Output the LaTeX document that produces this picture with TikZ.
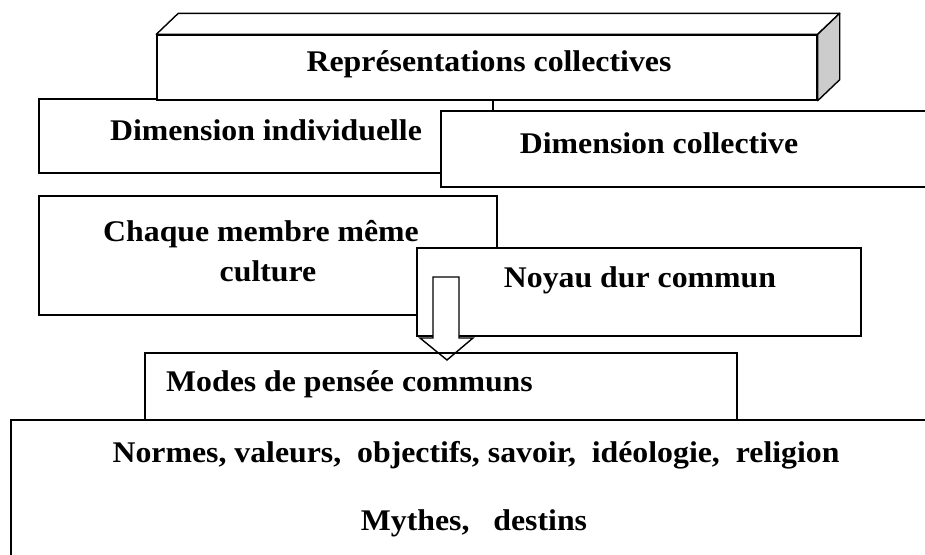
\documentclass[tikz,border=0pt]{standalone}
\usepackage{fontspec}
\setmainfont{Liberation Serif}[FakeStretch=1.06]
\begin{document}
\begin{tikzpicture}[x=1pt,y=-1pt,
  box/.style={draw=black, line width=1.4pt, fill=white, rectangle, inner sep=0pt, minimum width=#1},
  lbl/.style={inner sep=0pt, font=\fontsize{30}{36}\selectfont\bfseries},
  shade/.style={fill=black!20, draw=black, line width=1.4pt, line join=round}
]
\useasboundingbox (0,0) rectangle (925,554);
\clip (0,0) rectangle (925,554);

% bottom panel and the lower heading box
\node[box=929pt, minimum height=150pt] (base) at (475.5,495) {};

% left column
\node[box=454pt, minimum height=74pt] (dimind) at (266,136) {};
\node[box=458pt, minimum height=119pt] (chaque) at (268,255.5) {};

% title block with its 3D top and side
\node[box=660pt, minimum height=65pt] (rep) at (487,67.5) {};
\draw[line width=1.4pt, fill=white, line join=round]
  (rep.north west) -- ++(22,-21) -- ([shift={(22,-21)}]rep.north east) -- (rep.north east) -- cycle;
\draw[shade]
  (rep.north east) -- ++(22,-21) -- ([shift={(22,-21)}]rep.south east) -- (rep.south east) -- cycle;

% right column
\node[box=499pt, minimum height=76pt] (dimcol) at (690.5,149) {};
\node[box=444pt, minimum height=88pt] (noyau) at (639,292) {};

% hollow block arrow
\coordinate (atop) at (446,277);
\draw[line width=1.4pt, fill=white, line join=miter]
  ([xshift=-13]atop) -- ([xshift=13]atop) -- ++(0,61) -- ++(14,0)
  -- ([shift={(1,83)}]atop) -- ++(-27,-22) -- ++(13,0) -- cycle;

% lower heading box (outline only)
\node[draw=black, line width=1.4pt, rectangle, inner sep=0pt,
      minimum width=592pt, minimum height=67pt] (modes) at (441,386.5) {};

% texts
\node[lbl, anchor=base] (treps) at (489,71) {Représentations collectives};
\node[lbl, anchor=base] (tdimind) at (266,140) {Dimension individuelle};
\node[lbl, anchor=base] (tdimcol) at (659,153) {Dimension collective};
\node[lbl, anchor=base] (tchaque) at (261,241) {Chaque membre même};
\node[lbl, anchor=base] (tculture) at (268,281) {culture};
\node[lbl, anchor=base] (tnoyau) at (640,287) {Noyau dur commun};
\node[lbl, anchor=base west] (tmodes) at (166,391) {Modes de pensée communs};
\node[lbl, anchor=base] (tnormes) at (476,462) {Normes, valeurs,\ \ objectifs, savoir,\ \ idéologie,\ \ religion};
\node[lbl, anchor=base] (tmythes) at (474,530) {Mythes,\ \ \ destins};
\end{tikzpicture}
\end{document}
